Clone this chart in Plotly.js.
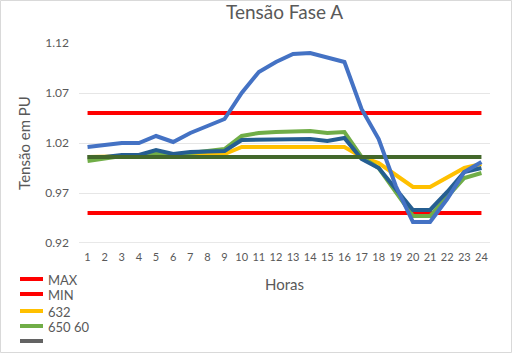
<!DOCTYPE html>
<html>
<head>
<meta charset="utf-8">
<script src="https://cdn.plot.ly/plotly-3.0.1.min.js"></script>
<style>html,body{margin:0;padding:0;background:#fff;}#chart{width:512px;height:353px;}</style>
</head>
<body>
<div id="chart"></div>
<script>
const hours = ['1','2','3','4','5','6','7','8','9','10','11','12','13','14','15','16','17','18','19','20','21','22','23','24'];
const maxV = [1.05,1.05,1.05,1.05,1.05,1.05,1.05,1.05,1.05,1.05,1.05,1.05,1.05,1.05,1.05,1.05,1.05,1.05,1.05,1.05,1.05,1.05,1.05,1.05];
const minV = [0.95,0.95,0.95,0.95,0.95,0.95,0.95,0.95,0.95,0.95,0.95,0.95,0.95,0.95,0.95,0.95,0.95,0.95,0.95,0.95,0.95,0.95,0.95,0.95];
const s632 = [1.006,1.006,1.007,1.007,1.008,1.007,1.008,1.009,1.009,1.016,1.016,1.016,1.016,1.016,1.015,1.016,1.006,1.000,0.988,0.976,0.976,0.986,0.995,0.999];
const s650 = [1.002,1.005,1.007,1.007,1.010,1.008,1.010,1.012,1.014,1.027,1.030,1.031,1.032,1.032,1.030,1.031,1.006,0.995,0.971,0.947,0.947,0.966,0.985,0.990];
const sDarkBlue = [1.006,1.006,1.008,1.008,1.013,1.009,1.011,1.012,1.012,1.023,1.023,1.024,1.023,1.024,1.022,1.025,1.004,0.995,0.974,0.953,0.953,0.971,0.991,0.995];
const sFlat = [1.006,1.006,1.006,1.006,1.006,1.006,1.006,1.006,1.006,1.006,1.006,1.006,1.006,1.006,1.006,1.006,1.006,1.006,1.006,1.006,1.006,1.006,1.006,1.006];
const sBlue = [1.016,1.018,1.020,1.020,1.027,1.021,1.030,1.037,1.044,1.070,1.091,1.101,1.109,1.110,1.105,1.101,1.054,1.024,0.977,0.941,0.941,0.964,0.991,1.001];
const yTicks = [0.92,0.97,1.02,1.07,1.12];
const yTickText = ['0.92','0.97','1.02','1.07','1.12'];
const legendNames = ['MAX','MIN','632','650 60',''];
const legendColors = ['#FF0000','#FF0000','#FFC000','#70AD47','#636363'];

const W = 4;
const traces = [
  {x: hours, y: maxV, name: 'MAX', mode: 'lines', line: {color: '#FF0000', width: W}},
  {x: hours, y: minV, name: 'MIN', mode: 'lines', line: {color: '#FF0000', width: W}},
  {x: hours, y: s632, name: '632', mode: 'lines', line: {color: '#FFC000', width: W}},
  {x: hours, y: s650, name: '650', mode: 'lines', line: {color: '#70AD47', width: W}},
  {x: hours, y: sDarkBlue, name: '671', mode: 'lines', line: {color: '#255E91', width: W}},
  {x: hours, y: sFlat, name: '60', mode: 'lines', line: {color: '#43682B', width: W}},
  {x: hours, y: sBlue, name: '634', mode: 'lines', line: {color: '#4472C4', width: W}}
];

// manual compact legend (paper coords: plot area x 79..490 px, y 43..243 px)
const px = v => (v - 79) / 411;
const py = v => (243 - v) / 200;
const rowY = [279, 294, 311, 326, 341];
const shapes = [
  {type: 'line', xref: 'paper', yref: 'y', x0: 0, x1: 1, y0: 0.92, y1: 0.92, line: {color: '#d0d0d0', width: 1}, layer: 'below'},
  {type: 'rect', xref: 'paper', yref: 'paper', x0: px(0.5), x1: px(511.5), y0: py(352.5), y1: py(0.5), line: {color: '#d9d9d9', width: 1}, fillcolor: 'rgba(0,0,0,0)'}
];
const annotations = [];
legendNames.forEach((n, i) => {
  shapes.push({type: 'line', xref: 'paper', yref: 'paper', x0: px(20), x1: px(43), y0: py(rowY[i]), y1: py(rowY[i]), line: {color: legendColors[i], width: 4}});
  if (n) annotations.push({xref: 'paper', yref: 'paper', x: px(46), y: py(rowY[i] + 1), xanchor: 'left', yanchor: 'middle', text: n, showarrow: false, font: {size: 13, color: '#595959'}});
});

const layout = {
  width: 512, height: 353,
  margin: {l: 79, r: 22, t: 43, b: 110, autoexpand: false},
  paper_bgcolor: '#ffffff', plot_bgcolor: '#ffffff',
  font: {family: 'Lato, "Open Sans", sans-serif', color: '#595959', size: 11},
  title: {text: 'Tensão Fase A', x: 0.5, xref: 'paper', y: 1 - 12.5 / 353, yref: 'container', yanchor: 'middle', font: {size: 19, color: '#595959'}},
  xaxis: {
    type: 'category', range: [-0.5, 23.5],
    showgrid: false, zeroline: false, showline: false, ticks: '',
    tickfont: {size: 11, color: '#595959'}, ticklabelstandoff: 6,
    title: {text: 'Horas', font: {size: 15, color: '#595959'}, standoff: 17}
  },
  yaxis: {
    range: [0.92, 1.12], tickvals: yTicks, ticktext: yTickText,
    showgrid: true, gridcolor: '#e6e6e6', gridwidth: 1, zeroline: false, showline: false, ticks: '',
    tickfont: {size: 12, color: '#595959'}, ticklabelstandoff: 9,
    title: {text: 'Tensão em PU', font: {size: 15, color: '#595959'}, standoff: 11}
  },
  shapes: shapes,
  annotations: annotations,
  showlegend: false
};

Plotly.newPlot('chart', traces, layout, {displayModeBar: false, staticPlot: true});
</script>
</body>
</html>
